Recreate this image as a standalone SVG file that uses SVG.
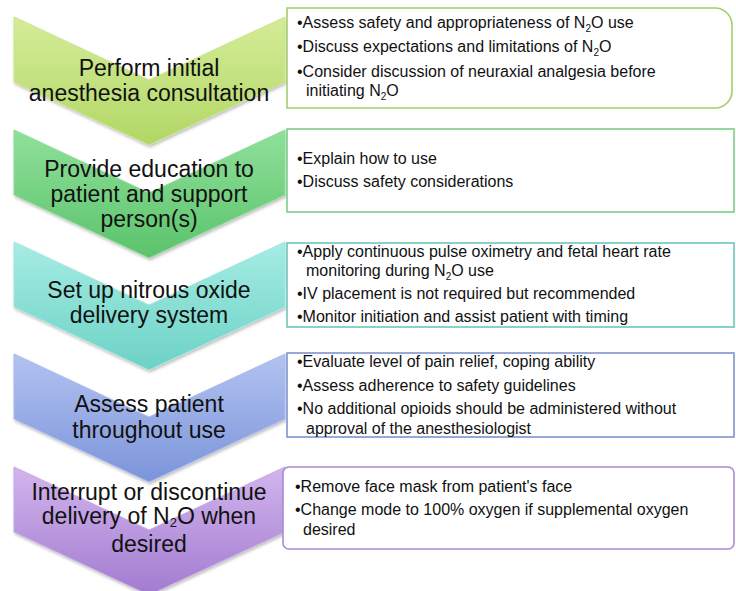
<svg xmlns="http://www.w3.org/2000/svg" width="736" height="591" viewBox="0 0 736 591">
<defs>
<linearGradient id="g1" x1="0" y1="0" x2="0" y2="1"><stop offset="0" stop-color="#d5ec98"/><stop offset="1" stop-color="#b2d765"/></linearGradient>
<linearGradient id="g2" x1="0" y1="0" x2="0" y2="1"><stop offset="0" stop-color="#8fe09a"/><stop offset="1" stop-color="#5bc36b"/></linearGradient>
<linearGradient id="g3" x1="0" y1="0" x2="0" y2="1"><stop offset="0" stop-color="#a6ece4"/><stop offset="1" stop-color="#6cd2c5"/></linearGradient>
<linearGradient id="g4" x1="0" y1="0" x2="0" y2="1"><stop offset="0" stop-color="#b2c3f1"/><stop offset="1" stop-color="#7b94da"/></linearGradient>
<linearGradient id="g5" x1="0" y1="0" x2="0" y2="1"><stop offset="0" stop-color="#d2b5ec"/><stop offset="1" stop-color="#a27bd1"/></linearGradient>
<filter id="sh" x="-10%" y="-10%" width="120%" height="130%"><feDropShadow dx="1" dy="2" stdDeviation="1.5" flood-color="#000" flood-opacity="0.25"/></filter>
<path id="chev" d="M0,0 L135,63 L271,0 L271,65 L135,128 L0,65 Z"/>
</defs>
<style>
.lbl{font-family:"Liberation Sans",Arial,sans-serif;font-size:23px;fill:#111;text-anchor:middle}
.txt{font-family:"Liberation Sans",Arial,sans-serif;font-size:16px;fill:#111}
.sub{font-size:10px}
.box{fill:#fff;stroke-width:1.6}
</style>

<g id="step1">
<use href="#chev" x="14" y="17" fill="url(#g1)" stroke="#c9e48e" stroke-width="1" filter="url(#sh)"/>
<text class="lbl" x="149" y="76">Perform initial</text>
<text class="lbl" x="149" y="101">anesthesia consultation</text>
</g>
<g id="box1">
<path class="box" stroke="#a3cf68" d="M287,8 H715 A17,17 0 0 1 732,25 V91 A17,17 0 0 1 715,108 H287 Z"/>
<text class="txt" x="297" y="28">•Assess safety and appropriateness of N<tspan class="sub" dy="4">2</tspan><tspan dy="-4">O use</tspan></text>
<text class="txt" x="297" y="52">•Discuss expectations and limitations of N<tspan class="sub" dy="4">2</tspan><tspan dy="-4">O</tspan></text>
<text class="txt" x="297" y="77">•Consider discussion of neuraxial analgesia before</text>
<text class="txt" x="306" y="96">initiating N<tspan class="sub" dy="4">2</tspan><tspan dy="-4">O</tspan></text>
</g>

<g id="step2">
<use href="#chev" x="14" y="130" fill="url(#g2)" stroke="#8fdc9a" stroke-width="1" filter="url(#sh)"/>
<text class="lbl" x="149" y="177">Provide education to</text>
<text class="lbl" x="149" y="202">patient and support</text>
<text class="lbl" x="149" y="227">person(s)</text>
</g>
<g id="box2">
<rect class="box" stroke="#7acd88" x="287" y="129" width="447" height="83"/>
<text class="txt" x="297" y="164">•Explain how to use</text>
<text class="txt" x="297" y="187">•Discuss safety considerations</text>
</g>

<g id="step3">
<use href="#chev" x="14" y="242" fill="url(#g3)" stroke="#a2e6df" stroke-width="1" filter="url(#sh)"/>
<text class="lbl" x="149" y="298">Set up nitrous oxide</text>
<text class="lbl" x="149" y="323">delivery system</text>
</g>
<g id="box3">
<rect class="box" stroke="#6ec6bc" x="287" y="243" width="447" height="84"/>
<text class="txt" x="297" y="257">•Apply continuous pulse oximetry and fetal heart rate</text>
<text class="txt" x="306" y="276">monitoring during N<tspan class="sub" dy="4">2</tspan><tspan dy="-4">O use</tspan></text>
<text class="txt" x="297" y="299">•IV placement is not required but recommended</text>
<text class="txt" x="297" y="322">•Monitor initiation and assist patient with timing</text>
</g>

<g id="step4">
<use href="#chev" x="14" y="354" fill="url(#g4)" stroke="#a9bbee" stroke-width="1" filter="url(#sh)"/>
<text class="lbl" x="149" y="412">Assess patient</text>
<text class="lbl" x="149" y="438">throughout use</text>
</g>
<g id="box4">
<rect class="box" stroke="#7f93d0" x="287" y="353" width="447" height="84"/>
<text class="txt" x="297" y="367">•Evaluate level of pain relief, coping ability</text>
<text class="txt" x="297" y="391">•Assess adherence to safety guidelines</text>
<text class="txt" x="297" y="414">•No additional opioids should be administered without</text>
<text class="txt" x="306" y="434">approval of the anesthesiologist</text>
</g>

<g id="step5">
<use href="#chev" x="14" y="467" fill="url(#g5)" stroke="#c9aae8" stroke-width="1" filter="url(#sh)"/>
<text class="lbl" x="149" y="500">Interrupt or discontinue</text>
<text class="lbl" x="149" y="524">delivery of N<tspan style="font-size:13px" dy="3">2</tspan><tspan dy="-3">O when</tspan></text>
<text class="lbl" x="149" y="552">desired</text>
</g>
<g id="box5">
<rect class="box" stroke="#a98ad4" x="283" y="467" width="451" height="82" rx="6"/>
<text class="txt" x="295" y="492">•Remove face mask from patient's face</text>
<text class="txt" x="295" y="515">•Change mode to 100% oxygen if supplemental oxygen</text>
<text class="txt" x="303" y="535">desired</text>
</g>
</svg>
